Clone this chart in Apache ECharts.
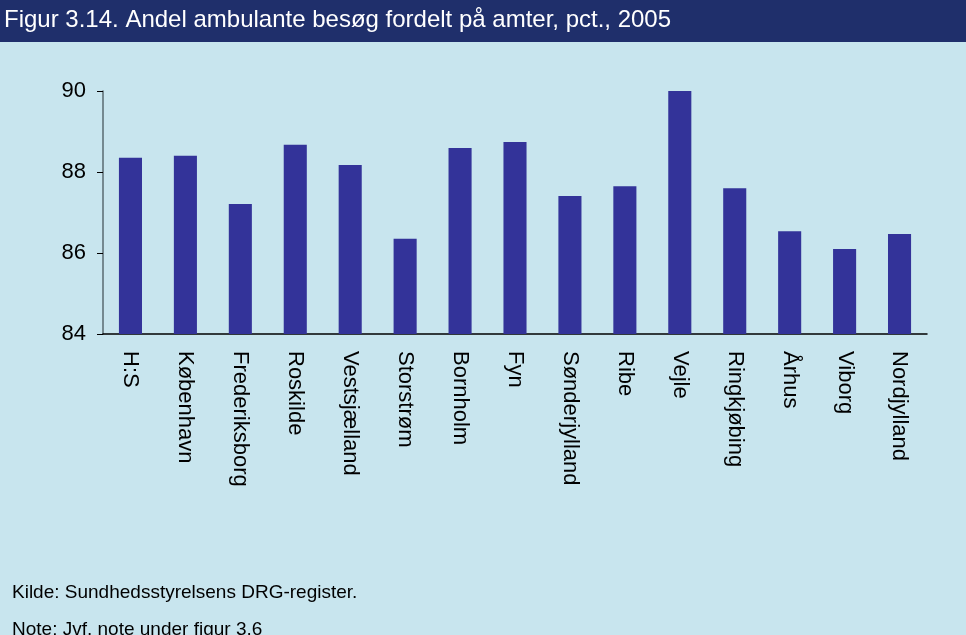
<!DOCTYPE html>
<html>
<head>
<meta charset="utf-8">
<script src="https://cdn.jsdelivr.net/npm/echarts@6/dist/echarts.min.js"></script>
<style>
  html, body { margin: 0; padding: 0; background: #c8e5ee; }
  #main { width: 966px; height: 635px; }
</style>
</head>
<body>
<div id="main"></div>
<script>
// amter og andel ambulante besøg (pct.)
var amter = ['H:S', 'København', 'Frederiksborg', 'Roskilde', 'Vestsjælland', 'Storstrøm',
  'Bornholm', 'Fyn', 'Sønderjylland', 'Ribe', 'Vejle', 'Ringkjøbing', 'Århus', 'Viborg', 'Nordjylland'];
var andel = [88.35, 88.4, 87.21, 88.67, 88.17, 86.35, 88.59, 88.74, 87.41, 87.65, 90.0, 87.6, 86.54, 86.1, 86.47];

var myChart = echarts.init(document.getElementById('main'));

var option = {
  backgroundColor: '#c8e5ee',
  animation: false,
  textStyle: { fontFamily: 'Liberation Sans, Arial, sans-serif' },
  graphic: [
    { type: 'rect', left: 0, top: 0, shape: { width: 966, height: 42 }, style: { fill: '#1f2f6b' } },
    { type: 'text', left: 4, top: 8, style: { text: 'Figur 3.14. Andel ambulante besøg fordelt på amter, pct., 2005',
      fill: '#ffffff', font: '24px "Liberation Sans", Arial, sans-serif' } },
    { type: 'text', left: 12, top: 583, style: { text: 'Kilde: Sundhedsstyrelsens DRG-register.',
      fill: '#000000', font: '19px "Liberation Sans", Arial, sans-serif' } },
    { type: 'text', left: 12, top: 620, style: { text: 'Note: Jvf. note under figur 3.6',
      fill: '#000000', font: '19px "Liberation Sans", Arial, sans-serif' } }
  ],
  grid: { left: 103, right: 39, top: 91, bottom: 301 },
  xAxis: {
    type: 'category',
    data: amter,
    axisLine: { lineStyle: { color: '#000000', width: 1.5 } },
    axisTick: { alignWithLabel: false, length: 6, lineStyle: { color: '#4a5a60' } },
    axisLabel: { rotate: -90, color: '#000000', fontSize: 22, margin: 17 }
  },
  yAxis: {
    type: 'value',
    min: 84,
    max: 90,
    interval: 2,
    splitLine: { show: false },
    axisLine: { show: true, lineStyle: { color: '#5a6a70', width: 1.5 } },
    axisTick: { show: true, length: 6, lineStyle: { color: '#000000' } },
    axisLabel: { color: '#000000', fontSize: 22, margin: 17 }
  },
  series: [{
    type: 'bar',
    data: andel,
    barWidth: '42%',
    itemStyle: { color: '#333399' }
  }]
};

myChart.setOption(option);
</script>
</body>
</html>
